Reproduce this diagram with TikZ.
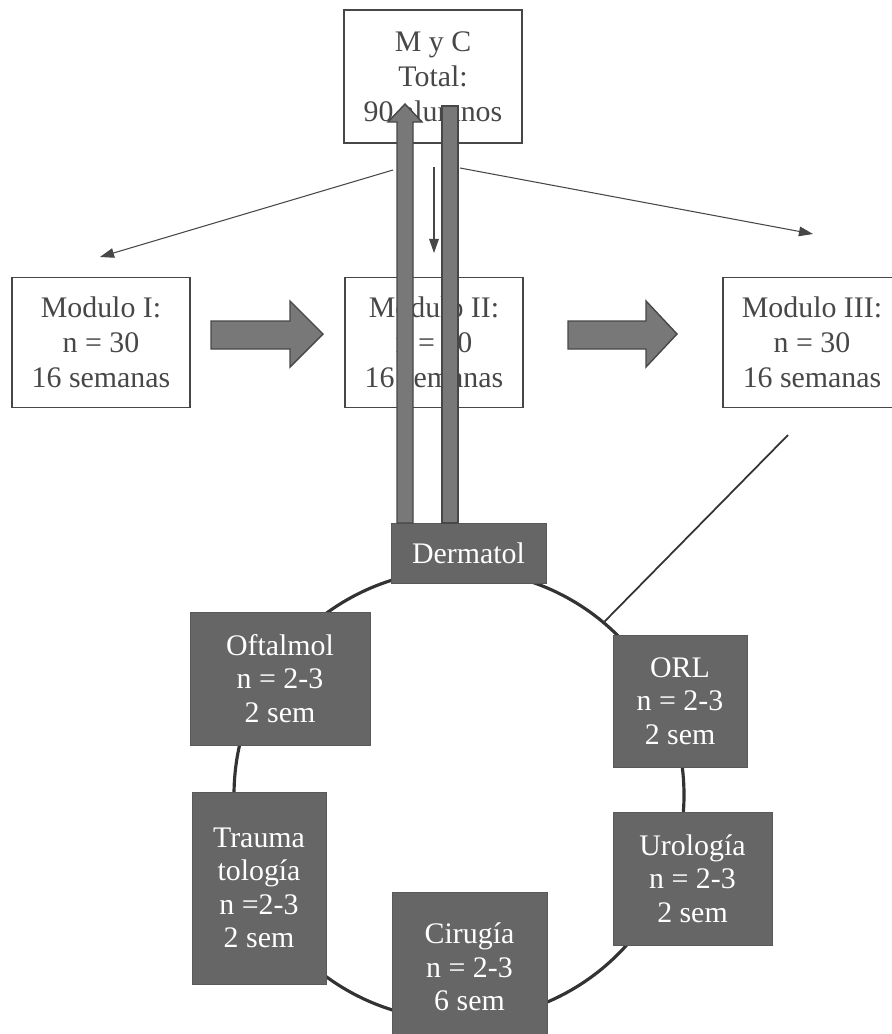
\documentclass[tikz,border=0pt]{standalone}
\usepackage{fontspec}
\setmainfont{Liberation Serif}
\usetikzlibrary{arrows.meta}
\definecolor{rotgray}{gray}{0.40}
\definecolor{bargray}{gray}{0.47}
\definecolor{edgegray}{gray}{0.28}
\newcommand{\px}{0.02cm}

\begin{document}
\begin{tikzpicture}[x=\px,y=-\px,
    modbox/.style={draw=edgegray,line width=0.6pt,minimum width=178*\px,minimum height=130*\px,
      align=center,text=black!72,font=\fontsize{17}{20}\selectfont},
    rotbox/.style={draw=black!65,fill=rotgray,text=white,align=center,inner sep=0pt,
      font=\fontsize{17}{19}\selectfont},
    thinarrow/.style={draw=edgegray,line width=0.6pt,-{Triangle[length=8pt,width=5.5pt]}},
    bigarrow/.style={fill=bargray,draw=edgegray,line width=0.8pt},
    ring/.style={circle,draw=black!80,line width=1.8pt,minimum size=450*\px,inner sep=0pt}]
  \useasboundingbox (0,0) rectangle (892,1034);
  \clip (0,0) rectangle (892,1034);

  % total de alumnos
  \node[modbox,minimum height=133*\px] (myc) at (433,76.5) {M y C\\Total:\\90 alumnos};

  % modulos
  \node[modbox] (mod1) at (101,342.5) {Modulo I:\\n = 30\\16 semanas};
  \node[modbox] (mod2) at (434,342.5) {Modulo II:\\n = 30\\16 semanas};
  \node[modbox] (mod3) at (812,342.5) {Modulo III:\\n = 30\\16 semanas};

  \coordinate (splitL) at (393,170);
  \coordinate (splitD) at (434,167);
  \coordinate (splitR) at (460,168);
  \coordinate (toI) at (100,257);
  \coordinate (toII) at (434,253);
  \coordinate (toIII) at (813,234);
  \draw[thinarrow] (splitL) -- (toI);
  \draw[thinarrow] (splitD) -- (toII);
  \draw[thinarrow] (splitR) -- (toIII);

  \filldraw[bigarrow] (211,321) -- (290,321) -- (290,301) -- (323,334) -- (290,367) -- (290,349) -- (211,349) -- cycle;
  \filldraw[bigarrow] (568,321) -- (646,321) -- (646,301) -- (677,334) -- (646,367) -- (646,349) -- (568,349) -- cycle;

  % rotaciones
  \node[ring] (ring) at (459,795) {};
  \coordinate (m3tail) at (788,435);
  \draw[draw=black!80,line width=1pt] (m3tail) -- (ring.50);

  \node[rotbox,minimum width=155*\px,minimum height=60*\px] (derm) at (468.5,553) {Dermatol};
  \node[rotbox,minimum width=180*\px,minimum height=133*\px] (oft) at (280,678.5) {Oftalmol\\n = 2-3\\2 sem};
  \node[rotbox,minimum width=134*\px,minimum height=132*\px] (orl) at (680,701) {ORL\\n = 2-3\\2 sem};
  \node[rotbox,minimum width=134*\px,minimum height=192*\px] (trau) at (259,888) {Trauma\\tología\\n =2-3\\2 sem};
  \node[rotbox,minimum width=159*\px,minimum height=133*\px] (uro) at (692.5,878.5) {Urología\\n = 2-3\\2 sem};
  \node[rotbox,minimum width=155*\px,minimum height=150*\px] (cir) at (469.5,967) {Cirugía\\n = 2-3\\6 sem};

  % barras hacia M y C
  \filldraw[bigarrow] (397,523) -- (397,122) -- (388,122) -- (405,104) -- (422,122) -- (413,122) -- (413,523) -- cycle;
  \filldraw[bigarrow] (442,106) rectangle (458,523);
\end{tikzpicture}
\end{document}
